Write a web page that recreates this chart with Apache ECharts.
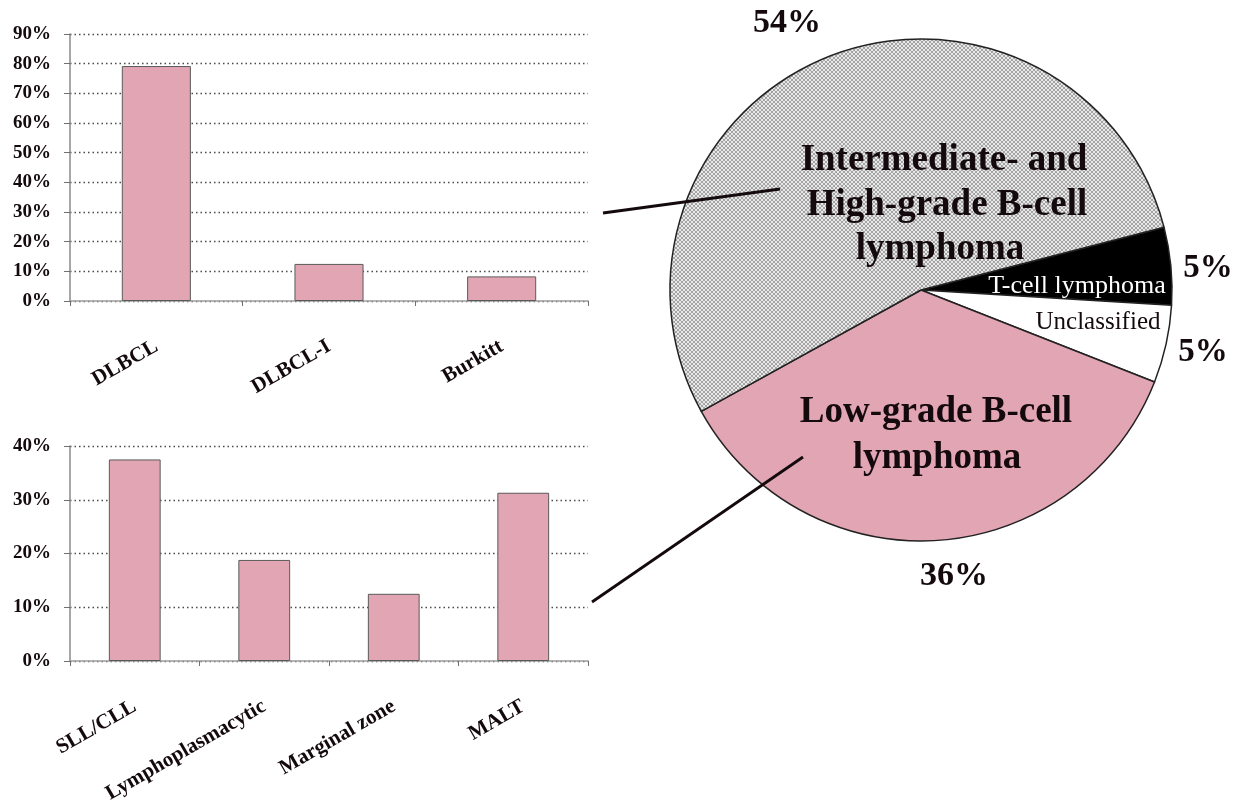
<!DOCTYPE html>
<html>
<head>
<meta charset="utf-8">
<title>Lymphoma subtypes</title>
<script src="https://cdn.jsdelivr.net/npm/echarts@6/dist/echarts.min.js"></script>
<style>
  html, body { margin: 0; padding: 0; background: #fff; }
  #chart { width: 1242px; height: 803px; }
</style>
</head>
<body>
<div id="chart"></div>
<script>
// upper bar chart: intermediate/high-grade B-cell subtypes
const highCats = ['DLBCL', 'DLBCL-I', 'Burkitt']
const highVals = [79.2, 12.5, 8.3]
const highMax = 90

// lower bar chart: low-grade B-cell subtypes
const lowCats = ['SLL/CLL', 'Lymphoplasmacytic', 'Marginal zone', 'MALT']
const lowVals = [37.5, 18.8, 12.5, 31.3]
const lowMax = 40

// pie, clockwise from the T-cell wedge
const pieNames = ['T-cell lymphoma', 'Unclassified', 'Low-grade B-cell lymphoma', 'Intermediate- and High-grade B-cell lymphoma']
const pieVals = [5, 5, 36, 54]

const serif = "'Liberation Serif', 'Times New Roman', serif"
const ink = '#140a0e'
const pink = '#e2a5b4'

// fine cross-hatch used for the grey wedge
const hatch = (() => {
  const c = document.createElement('canvas')
  c.width = 4
  c.height = 4
  const g = c.getContext('2d')
  g.fillStyle = '#e8e8e8'
  g.fillRect(0, 0, 4, 4)
  g.fillStyle = '#a4a4a4'
  for (let i = 0; i < 4; i++) {
    g.fillRect(i, i, 1, 1)
    g.fillRect(3 - i, i, 1, 1)
  }
  return c
})()

const pieColors = ['#000000', '#ffffff', pink, { image: hatch, repeat: 'repeat' }]

const barXAxis = (gridIndex, data) => ({
  type: 'category',
  gridIndex,
  data,
  axisLine: { lineStyle: { color: '#a0a0a0', width: 1.5 } },
  axisTick: { show: true, length: 5, lineStyle: { color: '#707070' } },
  axisLabel: {
    rotate: 30,
    margin: 44,
    interval: 0,
    color: ink,
    fontFamily: serif,
    fontWeight: 'bold',
    fontSize: 21,
  },
})

const barYAxis = (gridIndex, max) => ({
  type: 'value',
  gridIndex,
  min: 0,
  max,
  interval: 10,
  axisLine: { show: true, lineStyle: { color: '#8a8a8a', width: 1.5 } },
  axisTick: { show: true, length: 6, lineStyle: { color: '#707070' } },
  axisLabel: {
    formatter: '{value}%',
    margin: 19,
    color: ink,
    fontFamily: serif,
    fontWeight: 'bold',
    fontSize: 19,
  },
  splitLine: { lineStyle: { color: '#4a4a4a', width: 1.4, type: [1.5, 3] } },
})

const barSeries = (axisIndex, data) => ({
  type: 'bar',
  xAxisIndex: axisIndex,
  yAxisIndex: axisIndex,
  data,
  barCategoryGap: '60%',
  silent: true,
  itemStyle: { color: pink, borderColor: '#5a5a5a', borderWidth: 1 },
})

const annoText = (text, x, y, size, opts = {}) => ({
  type: 'text',
  x,
  y,
  z: 100,
  silent: true,
  style: {
    text,
    fill: opts.fill || ink,
    font: `${opts.weight || 'bold'} ${size}px ${serif}`,
    align: 'center',
    verticalAlign: 'middle',
  },
})

const leader = (x1, y1, x2, y2) => ({
  type: 'line',
  z: 100,
  silent: true,
  shape: { x1, y1, x2, y2 },
  style: { stroke: ink, lineWidth: 2.8 },
})

const chart = echarts.init(document.getElementById('chart'))

chart.setOption({
  animation: false,
  backgroundColor: '#fff',
  grid: [
    { left: 70, top: 34, width: 518, height: 267, outerBoundsMode: 'none' },
    { left: 70, top: 446, width: 518, height: 215, outerBoundsMode: 'none' },
  ],
  xAxis: [barXAxis(0, highCats), barXAxis(1, lowCats)],
  yAxis: [barYAxis(0, highMax), barYAxis(1, lowMax)],
  series: [
    barSeries(0, highVals),
    barSeries(1, lowVals),
    {
      type: 'pie',
      center: [921, 290],
      radius: 251,
      startAngle: 14.5,
      silent: true,
      label: { show: false },
      labelLine: { show: false },
      data: pieNames.map((name, i) => ({
        name,
        value: pieVals[i],
        itemStyle: { color: pieColors[i], borderColor: '#222', borderWidth: 1.5 },
      })),
    },
  ],
  graphic: [
    annoText(`${pieVals[3]}%`, 787, 23, 34),
    annoText('Intermediate- and', 944, 160, 37),
    annoText('High-grade B-cell', 947, 205, 37),
    annoText('lymphoma', 940, 249, 37),
    annoText('T-cell lymphoma', 1077, 286, 26, { fill: '#fff', weight: 'normal' }),
    annoText('Unclassified', 1098, 322, 25, { weight: 'normal' }),
    annoText(`${pieVals[0]}%`, 1208, 268, 33),
    annoText(`${pieVals[1]}%`, 1203, 352, 33),
    annoText('Low-grade B-cell', 936, 412, 37),
    annoText('lymphoma', 937, 458, 37),
    annoText(`${pieVals[2]}%`, 954, 576, 34),
    leader(603, 213, 780, 189),
    leader(592, 602, 803, 457),
  ],
})
</script>
</body>
</html>
